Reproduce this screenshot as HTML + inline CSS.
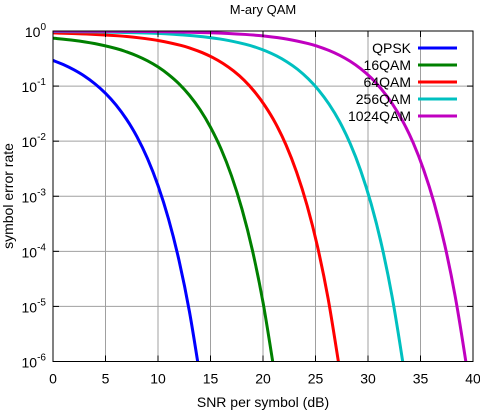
<!DOCTYPE html>
<html><head><meta charset="utf-8"><style>
html,body{margin:0;padding:0;background:#fff;width:480px;height:412px;overflow:hidden;}
svg{display:block;font-family:"Liberation Sans",Arial,sans-serif;}
</style></head><body>
<svg id="chart" width="480" height="412" viewBox="0 0 480 412">
<defs><clipPath id="pc"><rect x="53" y="31" width="420" height="330.5"/></clipPath></defs>
<text x="263" y="14" font-size="13" text-anchor="middle">M-ary QAM</text>
<g id="grid"></g>
<g id="series" clip-path="url(#pc)"></g>
<rect x="53" y="31" width="420" height="330.5" fill="none" stroke="#000" stroke-width="1"/>
<g id="ticks"></g>
<text x="263" y="407" font-size="14" text-anchor="middle">SNR per symbol (dB)</text>
<text transform="translate(13,196) rotate(-90)" font-size="14" text-anchor="middle">symbol error rate</text>
<g id="legend"></g>
</svg>
<script>
const xTicks=[0,5,10,15,20,25,30,35,40];
const yExps=[0,-1,-2,-3,-4,-5,-6];
const seriesNames=["QPSK","16QAM","64QAM","256QAM","1024QAM"];
const seriesColors=["#0000ff","#008000","#ff0000","#00c0c0","#c000c0"];
const snrQPSK=[0,1,2,3,4,5,6,7,8,9,10,11,12,13,14];
const serQPSK=[0.292,0.245,0.197,0.1516,0.1098,0.074,0.0455,0.025,0.012,0.00483,1.566e-3,3.88e-4,6.86e-5,7.94e-6,5.4e-7];
const snr16=[0,2,4,6,7,8,9,10,11,12,13,14,15,16,17,18,19,20,21];
const ser16=[0.741,0.676,0.589,0.481,0.419,0.354,0.288,0.223,0.162,0.110,0.0678,0.0374,0.0179,0.00726,0.00235,5.82e-4,1.03e-4,1.19e-5,8.1e-7];
const snr64=[0,3.2,6.2,8.2,10.2,12.2,13.2,14.2,15.2,16.2,17.2,18.2,19.2,20.2,21.2,22.2,23.2,24.2,25.2,26.2,27.2];
const ser64=[0.923,0.883,0.818,0.752,0.662,0.546,0.478,0.406,0.331,0.257,0.188,0.128,0.0789,0.0435,0.021,0.00847,0.00274,6.79e-4,1.2e-4,1.39e-5,9.45e-7];
const snr256=[0,4.3,9.3,12.3,14.3,16.3,18.3,19.3,20.3,21.3,22.3,23.3,24.3,25.3,26.3,27.3,28.3,29.3,30.3,31.3,32.3,33.3,34.3];
const ser256=[0.98,0.962,0.913,0.851,0.787,0.696,0.577,0.507,0.431,0.352,0.274,0.201,0.136,0.0844,0.0466,0.0225,0.00908,0.00294,7.28e-4,1.29e-4,1.49e-5,1.01e-6,5e-8];
const snr1024=[0,5.3,10.3,15.3,18.3,20.3,22.3,24.3,25.3,26.3,27.3,28.3,29.3,30.3,31.3,32.3,33.3,34.3,35.3,36.3,37.3,38.3,39.3,40.3];
const ser1024=[0.994,0.988,0.972,0.926,0.866,0.803,0.713,0.592,0.52,0.443,0.362,0.282,0.207,0.141,0.0871,0.0481,0.0232,0.00938,0.00303,7.52e-4,1.33e-4,1.54e-5,1.05e-6,5e-8];
const allSnr=[snrQPSK,snr16,snr64,snr256,snr1024];
const allSer=[serQPSK,ser16,ser64,ser256,ser1024];
const NS="http://www.w3.org/2000/svg";
const X0=53,X1=473,Y0=31,Y1=361.5;
function xs(v){return X0+(v-0)/(40-0)*(X1-X0);}
function ys(v){return Y0+(0-Math.log10(v))/6*(Y1-Y0);}
function mk(t,a,p){const e=document.createElementNS(NS,t);for(const k in a)e.setAttribute(k,a[k]);p.appendChild(e);return e;}
function smooth(P){let d='M'+P[0][0].toFixed(2)+' '+P[0][1].toFixed(2);
 for(let i=0;i<P.length-1;i++){const p0=P[Math.max(0,i-1)],p1=P[i],p2=P[i+1],p3=P[Math.min(P.length-1,i+2)];
  const c1=[p1[0]+(p2[0]-p0[0])/6,p1[1]+(p2[1]-p0[1])/6],c2=[p2[0]-(p3[0]-p1[0])/6,p2[1]-(p3[1]-p1[1])/6];
  d+=' C'+c1[0].toFixed(2)+' '+c1[1].toFixed(2)+' '+c2[0].toFixed(2)+' '+c2[1].toFixed(2)+' '+p2[0].toFixed(2)+' '+p2[1].toFixed(2);}
 return d;}
const grid=document.getElementById('grid'),ticks=document.getElementById('ticks');
xTicks.forEach(t=>{const x=xs(t);
 if(t>0&&t<40){const g=mk('line',{x1:x,x2:x,y1:Y0,y2:Y1,stroke:'#a0a0a0','stroke-width':1},grid);
 }
 mk('line',{x1:x,x2:x,y1:Y1,y2:Y1-6,stroke:'#000'},ticks);mk('line',{x1:x,x2:x,y1:Y0,y2:Y0+6,stroke:'#000'},ticks);
 const l=mk('text',{x:x,y:Y1+22,'font-size':14,'text-anchor':'middle'},ticks);l.textContent=t;
 });
yExps.forEach(e=>{const y=ys(Math.pow(10,e));
 if(e<0&&e>-6){const g=mk('line',{x1:X0,x2:X1,y1:y,y2:y,stroke:'#a0a0a0','stroke-width':1},grid);
 }
 mk('line',{x1:X0,x2:X0+6,y1:y,y2:y,stroke:'#000'},ticks);mk('line',{x1:X1,x2:X1-6,y1:y,y2:y,stroke:'#000'},ticks);
 const l=mk('text',{x:46,y:y+6,'font-size':14,'text-anchor':'end'},ticks);
 
 const a=document.createElementNS(NS,'tspan');a.textContent='10';l.appendChild(a);
 const b=document.createElementNS(NS,'tspan');b.setAttribute('dy','-7');b.setAttribute('font-size','10');b.textContent=String(e);l.appendChild(b);});
const sg=document.getElementById('series'),lg=document.getElementById('legend');
seriesNames.forEach((n,i)=>{
 const P=allSnr[i].map((s,j)=>[xs(s),ys(allSer[i][j])]);
 const p=mk('path',{d:smooth(P),fill:'none',stroke:seriesColors[i],'stroke-width':3,'stroke-linejoin':'round'},sg);
 
 const y=48+i*17;
 const t=mk('text',{x:411,y:y+5,'font-size':14,'text-anchor':'end'},lg);t.textContent=n;
 
 const ln=mk('line',{x1:418,x2:457,y1:y,y2:y,stroke:seriesColors[i],'stroke-width':3},lg);
 
});
</script>
</body></html>
